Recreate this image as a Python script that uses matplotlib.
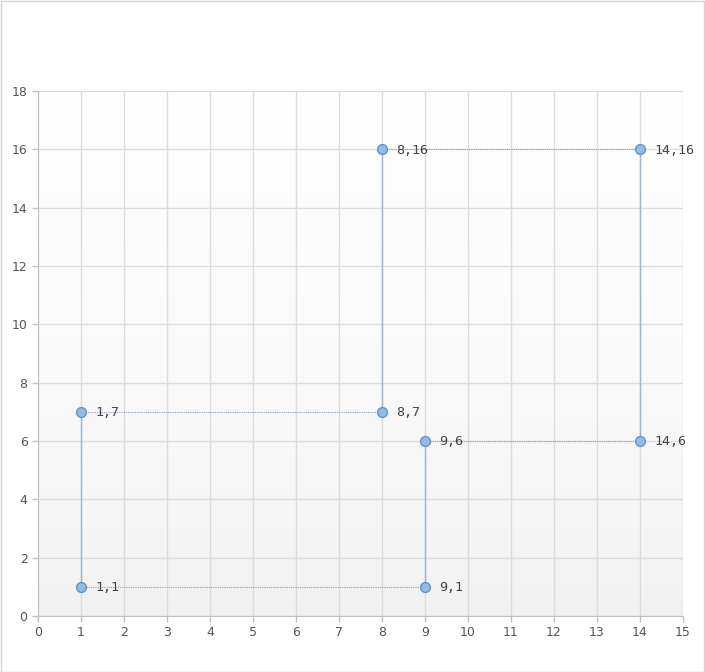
import numpy as np
import matplotlib.pyplot as plt
from matplotlib.patches import Rectangle
from matplotlib.colors import LinearSegmentedColormap

# path of the points, in drawing order (closed)
xs = [1, 1, 8, 8, 14, 14, 9, 9]
ys = [1, 7, 7, 16, 16, 6, 6, 1]
x_ticks = list(range(0, 16))
y_ticks = list(range(0, 19, 2))

fig = plt.figure(figsize=(7.05, 6.72), dpi=100)
fig.patches.append(Rectangle((0.5 / 705, 0.5 / 672), 1 - 1.5 / 705, 1 - 1.5 / 672,
                             transform=fig.transFigure, fill=False,
                             edgecolor='#d4d4d4', linewidth=1))
ax = fig.add_axes([38 / 705, 1 - 616 / 672, (683 - 38) / 705, (616 - 91) / 672])

# vertical gradient background (white on top, light gray at bottom)
grad = np.linspace(0, 1, 256).reshape(-1, 1) ** 0.7
ax.imshow(grad, extent=[0, 1, 0, 1], transform=ax.transAxes, aspect='auto',
          cmap=LinearSegmentedColormap.from_list('g', ['#f1f1f1', '#ffffff']),
          origin='lower', zorder=0)

ax.set_xlim(0, 15)
ax.set_ylim(0, 18)
ax.set_xticks(x_ticks)
ax.set_yticks(y_ticks)
ax.grid(True, color='#dcdcdc', linewidth=1, zorder=1)
for s in ax.spines.values():
    s.set_visible(False)
ax.spines['left'].set_visible(True)
ax.spines['bottom'].set_visible(True)
ax.spines['left'].set_color('#c0c0c0')
ax.spines['bottom'].set_color('#c0c0c0')
ax.tick_params(colors='#c0c0c0', labelcolor='#555555', labelsize=9, length=4, width=1)

n = len(xs)
for i in range(n):
    x0, y0 = xs[i], ys[i]
    x1, y1 = xs[(i + 1) % n], ys[(i + 1) % n]
    if x0 == x1:
        ax.plot([x0, x1], [y0, y1], color='#9bb6d6', linewidth=1, zorder=2)
    else:
        ax.plot([x0, x1], [y0, y1], color='#8a9fb8', linewidth=0.8,
                linestyle=(0, (1, 1)), zorder=2)

ax.scatter(xs, ys, s=50, facecolor='#93bbe3', edgecolor='#5f93cc', linewidth=1, zorder=3)
for x, y in zip(xs, ys):
    ax.annotate(f'{x},{y}', (x, y), xytext=(10.5, -0.5), textcoords='offset points',
                va='center', ha='left', fontsize=9.6, color='#444444',
                family='DejaVu Sans Mono', zorder=4)

fig.savefig('out.png', dpi=100)
